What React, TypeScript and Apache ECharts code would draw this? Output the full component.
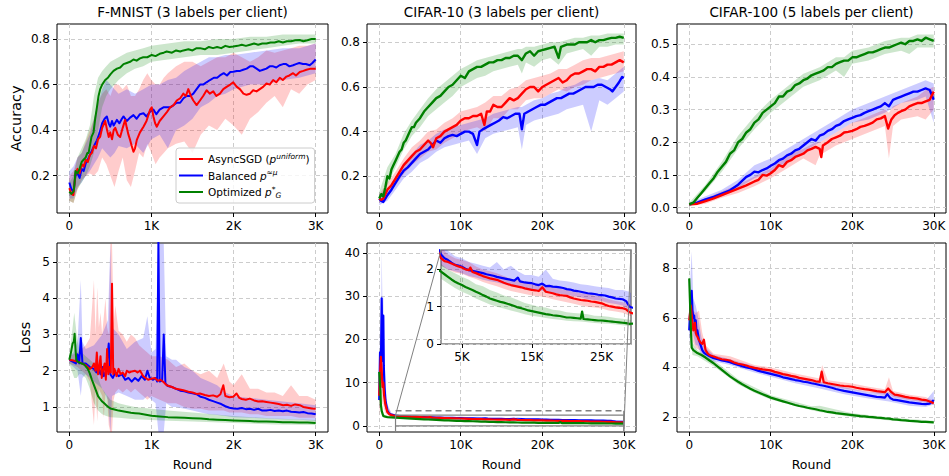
import React, { useEffect, useRef } from "react";
import * as echarts from "echarts";

const FONT = "DejaVu Sans";
const RED = "#ff0000";
const BLUE = "#0000ff";
const GREEN = "#008000";
const GRID_COLOR = "#cccccc";

// ---------- tick labels / axis ranges ----------
const xTicksFmnist = [0, 1000, 2000, 3000];
const xTicksCifar = [0, 10000, 20000, 30000];
const xTicksInset = [5000, 15000, 25000];
const yTicksA = [0.2, 0.4, 0.6, 0.8];
const yTicksB = [0.2, 0.4, 0.6, 0.8];
const yTicksC = [0.0, 0.1, 0.2, 0.3, 0.4, 0.5];
const yTicksD = [1, 2, 3, 4, 5];
const yTicksE = [0, 10, 20, 30, 40];
const yTicksF = [2, 4, 6, 8];
const yTicksInset = [0, 1, 2];

const titles = ["F-MNIST (3 labels per client)", "CIFAR-10 (3 labels per client)", "CIFAR-100 (5 labels per client)"];
const seriesNames = ["AsyncSGD", "Balanced", "Optimized"];

// ---------- F-MNIST accuracy ----------
const accFmnistAsync = [[0,0.145],[25,0.12],[50,0.115],[75,0.21],[100,0.23],[125,0.21],[150,0.25],[175,0.24],[200,0.27],[225,0.26],[250,0.29],[275,0.3],[300,0.33],[325,0.32],[350,0.36],[375,0.37],[400,0.41],[437,0.44],[460,0.4],[480,0.37],[498,0.39],[520,0.36],[540,0.4],[560,0.41],[590,0.38],[619,0.37],[650,0.41],[680,0.445],[700,0.41],[720,0.38],[741,0.356],[760,0.33],[781,0.305],[800,0.32],[822,0.357],[860,0.39],[903,0.415],[940,0.44],[984,0.49],[1004,0.5],[1024,0.46],[1045,0.43],[1065,0.415],[1100,0.44],[1146,0.46],[1190,0.48],[1227,0.5],[1270,0.51],[1308,0.53],[1350,0.54],[1389,0.56],[1420,0.55],[1449,0.58],[1480,0.55],[1510,0.53],[1550,0.51],[1591,0.53],[1630,0.55],[1672,0.575],[1710,0.56],[1753,0.57],[1790,0.55],[1834,0.56],[1875,0.58],[1915,0.59],[1960,0.6],[1996,0.61],[2040,0.59],[2077,0.58],[2120,0.56],[2158,0.555],[2200,0.56],[2239,0.575],[2280,0.57],[2320,0.58],[2360,0.59],[2401,0.605],[2440,0.6],[2482,0.62],[2520,0.61],[2563,0.63],[2600,0.62],[2644,0.635],[2680,0.64],[2725,0.65],[2760,0.64],[2806,0.655],[2850,0.66],[2887,0.665],[2940,0.67],[3000,0.67]];
const accFmnistBalanced = [[0,0.17],[25,0.14],[50,0.13],[75,0.2],[100,0.21],[125,0.19],[150,0.23],[175,0.22],[200,0.255],[225,0.27],[250,0.29],[275,0.31],[300,0.33],[336,0.355],[370,0.39],[400,0.43],[430,0.45],[457,0.46],[480,0.43],[498,0.415],[520,0.44],[540,0.42],[579,0.445],[610,0.43],[640,0.45],[660,0.46],[700,0.44],[740,0.455],[781,0.466],[820,0.45],[860,0.47],[903,0.474],[940,0.46],[980,0.48],[1024,0.49],[1060,0.47],[1100,0.49],[1146,0.5],[1186,0.5],[1230,0.5],[1270,0.51],[1308,0.52],[1350,0.52],[1390,0.54],[1429,0.55],[1470,0.55],[1510,0.56],[1550,0.58],[1591,0.6],[1630,0.6],[1670,0.61],[1713,0.62],[1760,0.63],[1800,0.63],[1834,0.64],[1880,0.65],[1920,0.64],[1960,0.655],[1996,0.656],[2040,0.66],[2080,0.66],[2117,0.665],[2160,0.67],[2200,0.68],[2239,0.68],[2280,0.67],[2320,0.66],[2360,0.665],[2400,0.67],[2440,0.68],[2482,0.68],[2520,0.675],[2560,0.685],[2603,0.69],[2640,0.69],[2680,0.68],[2725,0.685],[2760,0.69],[2800,0.695],[2846,0.69],[2880,0.69],[2927,0.685],[2960,0.695],[3000,0.71]];
const accFmnistOptimized = [[0,0.13],[25,0.12],[50,0.13],[60,0.15],[75,0.22],[100,0.21],[125,0.23],[150,0.26],[174,0.27],[200,0.28],[220,0.3],[235,0.3],[250,0.33],[270,0.37],[295,0.39],[315,0.45],[336,0.5],[356,0.55],[376,0.58],[400,0.6],[437,0.62],[470,0.63],[500,0.645],[538,0.66],[580,0.67],[620,0.675],[660,0.69],[700,0.695],[740,0.7],[781,0.71],[820,0.705],[860,0.715],[900,0.72],[950,0.72],[1004,0.73],[1050,0.725],[1100,0.735],[1150,0.74],[1186,0.745],[1250,0.74],[1300,0.75],[1350,0.745],[1389,0.75],[1450,0.755],[1500,0.75],[1550,0.76],[1591,0.76],[1650,0.755],[1700,0.765],[1750,0.76],[1800,0.765],[1850,0.76],[1900,0.77],[1950,0.765],[1996,0.767],[2050,0.77],[2100,0.775],[2150,0.77],[2200,0.775],[2250,0.78],[2300,0.775],[2350,0.78],[2401,0.78],[2450,0.785],[2500,0.785],[2550,0.79],[2600,0.785],[2650,0.79],[2700,0.79],[2750,0.795],[2806,0.796],[2850,0.79],[2900,0.795],[2950,0.8],[3000,0.8]];
const accFmnistAsyncBand = [[0,0.09,0.2],[50,0.08,0.22],[100,0.14,0.28],[150,0.18,0.3],[200,0.2,0.35],[250,0.21,0.4],[300,0.2,0.45],[350,0.22,0.52],[400,0.28,0.56],[450,0.25,0.58],[500,0.2,0.55],[550,0.15,0.6],[600,0.22,0.6],[650,0.28,0.58],[700,0.18,0.6],[750,0.15,0.55],[800,0.22,0.55],[850,0.3,0.58],[900,0.28,0.62],[950,0.34,0.65],[1000,0.3,0.62],[1050,0.25,0.6],[1100,0.28,0.6],[1150,0.3,0.63],[1200,0.32,0.65],[1300,0.34,0.68],[1400,0.35,0.7],[1500,0.3,0.7],[1600,0.38,0.68],[1700,0.42,0.7],[1800,0.4,0.72],[1900,0.45,0.72],[2000,0.42,0.74],[2100,0.38,0.72],[2200,0.45,0.7],[2300,0.48,0.72],[2400,0.52,0.75],[2500,0.55,0.74],[2600,0.5,0.75],[2700,0.58,0.76],[2800,0.56,0.77],[2900,0.6,0.77],[3000,0.62,0.78]];
const accFmnistBalancedBand = [[0,0.1,0.22],[50,0.1,0.24],[100,0.15,0.28],[150,0.17,0.3],[200,0.2,0.34],[250,0.22,0.38],[300,0.25,0.45],[350,0.28,0.52],[400,0.32,0.58],[450,0.3,0.62],[500,0.28,0.6],[550,0.3,0.58],[600,0.33,0.56],[700,0.32,0.58],[800,0.34,0.56],[900,0.3,0.58],[1000,0.36,0.6],[1100,0.38,0.6],[1200,0.32,0.62],[1300,0.4,0.63],[1400,0.42,0.66],[1500,0.45,0.68],[1600,0.5,0.7],[1700,0.52,0.72],[1800,0.55,0.72],[1900,0.56,0.73],[2000,0.58,0.73],[2200,0.6,0.74],[2400,0.6,0.75],[2600,0.62,0.76],[2800,0.63,0.76],[3000,0.65,0.78]];
const accFmnistOptimizedBand = [[0,0.09,0.17],[50,0.08,0.2],[100,0.14,0.28],[150,0.17,0.32],[200,0.2,0.36],[250,0.24,0.42],[300,0.3,0.55],[350,0.4,0.63],[400,0.5,0.66],[450,0.55,0.68],[500,0.58,0.7],[600,0.62,0.72],[700,0.65,0.74],[800,0.67,0.75],[900,0.68,0.76],[1000,0.7,0.77],[1200,0.71,0.78],[1400,0.72,0.79],[1600,0.73,0.79],[1800,0.73,0.8],[2000,0.74,0.8],[2200,0.75,0.81],[2400,0.76,0.81],[2600,0.77,0.82],[2800,0.78,0.82],[3000,0.78,0.82]];

// ---------- F-MNIST loss ----------
const lossFmnistAsync = [[0,2.3],[50,2.28],[100,2.25],[150,2.2],[200,2.15],[250,2.05],[280,2.1],[300,2.2],[320,2.0],[335,2.5],[350,1.9],[365,2.1],[380,2.4],[395,1.8],[410,2.0],[430,2.2],[445,1.75],[460,2.6],[475,1.9],[490,2.1],[505,1.95],[520,4.4],[535,1.9],[550,2.05],[575,1.85],[600,2.05],[625,1.9],[650,1.95],[680,1.85],[700,2.0],[730,1.95],[760,1.98],[800,2.0],[830,1.95],[862,2.0],[900,1.85],[930,1.8],[960,1.75],[1000,1.78],[1040,1.8],[1080,1.72],[1110,1.75],[1150,1.68],[1186,1.6],[1250,1.55],[1300,1.5],[1389,1.46],[1450,1.42],[1500,1.4],[1550,1.36],[1591,1.37],[1650,1.33],[1700,1.3],[1750,1.32],[1800,1.28],[1840,1.35],[1875,1.6],[1900,1.3],[1950,1.27],[1996,1.28],[2036,1.37],[2070,1.25],[2100,1.22],[2150,1.2],[2198,1.23],[2250,1.18],[2300,1.15],[2350,1.16],[2400,1.14],[2450,1.12],[2500,1.1],[2550,1.08],[2603,1.05],[2650,1.06],[2700,1.03],[2750,1.07],[2806,1.05],[2850,1.0],[2900,0.98],[2950,0.96],[3000,0.95]];
const lossFmnistBalanced = [[0,2.3],[40,2.25],[80,2.2],[100,2.45],[120,2.2],[140,2.9],[160,2.2],[200,2.2],[250,2.1],[300,2.05],[330,1.95],[350,2.1],[380,1.9],[400,2.1],[420,1.85],[450,2.0],[480,2.75],[500,1.9],[530,1.8],[560,1.95],[600,1.85],[640,1.9],[680,1.75],[720,1.8],[760,1.7],[800,1.8],[840,1.72],[880,1.85],[920,1.75],[950,2.0],[980,1.8],[1020,1.75],[1050,1.8],[1070,1.7],[1085,5.6],[1100,1.7],[1130,1.72],[1150,3.0],[1170,1.65],[1200,1.58],[1250,1.55],[1300,1.5],[1350,1.45],[1400,1.43],[1450,1.4],[1500,1.38],[1550,1.35],[1600,1.28],[1650,1.25],[1700,1.2],[1750,1.16],[1800,1.12],[1850,1.08],[1900,1.02],[1950,0.98],[2000,0.96],[2050,0.95],[2100,0.97],[2150,0.94],[2200,0.95],[2250,0.92],[2300,0.95],[2350,0.9],[2400,0.9],[2450,0.92],[2500,0.89],[2550,0.9],[2600,0.88],[2650,0.9],[2700,0.87],[2750,0.86],[2800,0.85],[2850,0.86],[2900,0.83],[2950,0.82],[3000,0.8]];
const lossFmnistOptimized = [[0,2.3],[20,2.5],[40,2.75],[55,2.8],[65,3.02],[75,2.6],[85,2.3],[100,2.25],[125,2.22],[150,2.2],[175,2.18],[200,2.12],[225,2.05],[250,1.92],[275,1.75],[300,1.6],[325,1.45],[350,1.3],[375,1.22],[400,1.15],[425,1.1],[450,1.05],[475,1.0],[500,0.96],[550,0.93],[600,0.9],[650,0.88],[700,0.86],[750,0.84],[800,0.83],[850,0.82],[900,0.8],[950,0.78],[1000,0.76],[1100,0.74],[1200,0.72],[1300,0.71],[1400,0.7],[1500,0.69],[1600,0.68],[1700,0.66],[1800,0.65],[1900,0.64],[2000,0.63],[2100,0.62],[2200,0.61],[2300,0.6],[2400,0.6],[2500,0.59],[2600,0.58],[2700,0.58],[2800,0.57],[2900,0.57],[3000,0.56]];
const lossFmnistAsyncBand = [[0,2.2,2.4],[50,2.15,2.45],[100,2.1,2.5],[150,2.0,2.6],[200,1.9,2.7],[250,1.7,2.9],[300,0.5,4.5],[320,1.5,3.0],[340,0.6,4.3],[360,1.5,3.2],[380,1.4,3.6],[400,1.3,3.0],[420,0.7,3.5],[440,1.4,4.0],[460,1.3,3.2],[480,0.5,3.0],[500,0.3,5.5],[520,0.3,5.5],[540,1.2,3.3],[560,1.4,3.8],[600,1.5,3.1],[650,1.4,3.0],[700,1.5,2.8],[750,1.4,3.0],[800,1.5,2.9],[850,1.4,2.7],[900,1.3,2.6],[950,1.2,2.5],[1000,1.3,2.4],[1100,1.2,2.4],[1200,1.1,2.3],[1300,1.1,2.1],[1400,1.0,2.2],[1500,0.95,2.0],[1600,0.95,1.9],[1700,0.9,2.0],[1800,0.9,1.8],[1880,0.9,2.2],[1950,0.85,1.7],[2000,0.85,1.6],[2100,0.85,1.9],[2200,0.8,1.5],[2300,0.8,1.5],[2400,0.75,1.4],[2500,0.75,1.4],[2600,0.75,1.3],[2700,0.75,1.6],[2800,0.7,1.3],[2900,0.7,1.3],[3000,0.7,1.2]];
const lossFmnistBalancedBand = [[0,2.2,2.4],[50,2.1,2.5],[100,2.0,2.8],[140,1.3,4.5],[160,1.8,2.8],[200,1.9,2.6],[300,1.7,2.7],[400,1.5,3.0],[470,1.2,3.4],[500,0.3,5.5],[520,1.3,3.2],[600,1.4,3.0],[700,1.3,2.6],[800,1.2,2.8],[900,1.2,2.9],[950,1.3,3.5],[1000,1.2,2.5],[1050,1.1,2.6],[1085,0.3,5.5],[1150,0.3,5.5],[1180,1.1,2.4],[1250,1.0,2.3],[1300,1.0,2.3],[1400,0.95,2.1],[1500,0.9,2.0],[1600,0.85,1.8],[1700,0.8,1.7],[1800,0.78,1.6],[1900,0.75,1.4],[2000,0.72,1.3],[2200,0.7,1.25],[2400,0.68,1.2],[2600,0.66,1.15],[2800,0.65,1.1],[3000,0.62,1.05]];
const lossFmnistOptimizedBand = [[0,2.2,2.4],[30,2.0,3.0],[60,1.8,3.6],[90,1.8,3.0],[120,1.9,2.6],[150,1.9,2.5],[200,1.8,2.4],[250,1.5,2.3],[300,1.1,2.2],[350,0.9,1.8],[400,0.8,1.5],[450,0.75,1.35],[500,0.72,1.2],[600,0.7,1.1],[700,0.68,1.05],[800,0.66,1.0],[1000,0.64,0.95],[1200,0.62,0.9],[1500,0.6,0.85],[2000,0.56,0.75],[2500,0.52,0.68],[3000,0.5,0.64]];

// ---------- CIFAR-10 accuracy ----------
const accC10Async = [[0,0.1],[250,0.095],[500,0.1],[1000,0.14],[1500,0.16],[2000,0.19],[2500,0.22],[3000,0.25],[3500,0.27],[4000,0.29],[4500,0.31],[5000,0.32],[5500,0.34],[6000,0.36],[6300,0.35],[6600,0.33],[7000,0.37],[7500,0.38],[8000,0.4],[8500,0.41],[9000,0.42],[9500,0.43],[10000,0.45],[10500,0.46],[11000,0.46],[11500,0.47],[12000,0.47],[12500,0.48],[12900,0.43],[13200,0.49],[13600,0.49],[14000,0.52],[14500,0.51],[15000,0.51],[15500,0.53],[16000,0.55],[16500,0.54],[17000,0.55],[17500,0.57],[18000,0.59],[18500,0.6],[19000,0.6],[19500,0.58],[20000,0.6],[20500,0.61],[21000,0.62],[21500,0.63],[22000,0.64],[22500,0.62],[23000,0.63],[23500,0.65],[24000,0.66],[24500,0.66],[25000,0.67],[25500,0.68],[26000,0.68],[26500,0.67],[27000,0.69],[27500,0.69],[28000,0.7],[28500,0.7],[29000,0.71],[29500,0.72],[30000,0.71]];
const accC10Balanced = [[0,0.1],[250,0.09],[500,0.085],[750,0.1],[1000,0.115],[1500,0.14],[2000,0.17],[2500,0.2],[3000,0.225],[3500,0.24],[4000,0.26],[4500,0.28],[5000,0.3],[5500,0.31],[6000,0.32],[6500,0.34],[7000,0.36],[7500,0.35],[8000,0.37],[8500,0.38],[9000,0.385],[9500,0.38],[10000,0.39],[10500,0.4],[11000,0.4],[11500,0.39],[12000,0.34],[12300,0.4],[12700,0.41],[13200,0.42],[13700,0.43],[14200,0.44],[14700,0.45],[15200,0.465],[15700,0.46],[16200,0.47],[16700,0.48],[17200,0.48],[17500,0.41],[17800,0.48],[18300,0.49],[18800,0.5],[19300,0.51],[19800,0.52],[20300,0.52],[20800,0.53],[21300,0.54],[21800,0.55],[22300,0.55],[22800,0.56],[23300,0.57],[23800,0.57],[24300,0.58],[24800,0.59],[25300,0.6],[25800,0.6],[26300,0.6],[26800,0.61],[27300,0.61],[27800,0.6],[28300,0.59],[28600,0.58],[29000,0.6],[29400,0.62],[29800,0.645],[30000,0.64]];
const accC10Optimized = [[0,0.1],[250,0.12],[500,0.11],[750,0.15],[1000,0.2],[1250,0.19],[1500,0.23],[1750,0.25],[2000,0.27],[2250,0.29],[2500,0.31],[2750,0.32],[3000,0.35],[3250,0.36],[3500,0.38],[3750,0.4],[4000,0.42],[4250,0.42],[4500,0.44],[4750,0.45],[5000,0.46],[5500,0.49],[6000,0.51],[6500,0.53],[7000,0.55],[7500,0.56],[8000,0.58],[8500,0.6],[9000,0.61],[9500,0.63],[10000,0.65],[10500,0.64],[11000,0.67],[11500,0.68],[12000,0.69],[12500,0.69],[13000,0.7],[13500,0.71],[14000,0.71],[14500,0.72],[15000,0.72],[15500,0.73],[16000,0.73],[16500,0.74],[17000,0.74],[17500,0.72],[18000,0.75],[18500,0.76],[19000,0.74],[19500,0.76],[20000,0.765],[20500,0.77],[21000,0.775],[21500,0.78],[22000,0.73],[22300,0.78],[23000,0.79],[23500,0.79],[24000,0.79],[24500,0.8],[25000,0.8],[25500,0.8],[26000,0.81],[26500,0.8],[27000,0.81],[27500,0.81],[28000,0.815],[28500,0.82],[29000,0.82],[29500,0.825],[30000,0.82]];
const accC10AsyncBand = [[0,0.08,0.12],[1000,0.11,0.17],[2000,0.16,0.22],[3000,0.21,0.28],[4000,0.25,0.33],[5000,0.28,0.36],[6000,0.31,0.4],[7000,0.32,0.41],[8000,0.35,0.44],[9000,0.37,0.46],[10000,0.39,0.49],[11000,0.41,0.5],[12000,0.42,0.51],[13000,0.4,0.53],[14000,0.46,0.56],[15000,0.46,0.56],[16000,0.5,0.59],[17000,0.5,0.6],[18000,0.54,0.63],[19000,0.55,0.64],[20000,0.55,0.65],[21000,0.57,0.66],[22000,0.59,0.68],[23000,0.58,0.68],[24000,0.6,0.7],[25000,0.61,0.72],[26000,0.63,0.73],[27000,0.64,0.73],[28000,0.65,0.74],[29000,0.66,0.75],[30000,0.67,0.76]];
const accC10BalancedBand = [[0,0.07,0.12],[1000,0.09,0.14],[2000,0.14,0.2],[3000,0.19,0.26],[4000,0.22,0.3],[5000,0.26,0.34],[6000,0.28,0.36],[7000,0.31,0.39],[8000,0.33,0.41],[9000,0.34,0.42],[10000,0.35,0.43],[11000,0.36,0.44],[12000,0.3,0.45],[13000,0.37,0.46],[14000,0.39,0.48],[15000,0.4,0.49],[16000,0.41,0.5],[17000,0.42,0.51],[17500,0.32,0.51],[18000,0.43,0.52],[19000,0.45,0.54],[20000,0.46,0.55],[21000,0.47,0.57],[22000,0.48,0.58],[23000,0.5,0.6],[24000,0.51,0.61],[25000,0.52,0.63],[26000,0.4,0.63],[27000,0.54,0.64],[28000,0.52,0.63],[29000,0.55,0.66],[30000,0.58,0.69]];
const accC10OptimizedBand = [[0,0.09,0.13],[1000,0.16,0.24],[2000,0.24,0.3],[3000,0.32,0.39],[4000,0.38,0.45],[5000,0.42,0.5],[6000,0.47,0.55],[7000,0.5,0.59],[8000,0.53,0.62],[9000,0.56,0.65],[10000,0.6,0.68],[11000,0.62,0.7],[12000,0.64,0.72],[13000,0.65,0.73],[14000,0.67,0.74],[15000,0.68,0.75],[16000,0.69,0.76],[17000,0.7,0.77],[17500,0.66,0.77],[18000,0.71,0.78],[19000,0.69,0.78],[20000,0.72,0.79],[21000,0.73,0.8],[22000,0.7,0.8],[23000,0.75,0.81],[24000,0.76,0.82],[25000,0.77,0.82],[26000,0.74,0.83],[27000,0.78,0.83],[28000,0.78,0.84],[29000,0.79,0.84],[30000,0.79,0.84]];

// ---------- CIFAR-100 accuracy ----------
const accC100Async = [[0,0.01],[1000,0.012],[2000,0.02],[3000,0.028],[4000,0.038],[5000,0.048],[6000,0.058],[7000,0.068],[8000,0.08],[8500,0.085],[9000,0.1],[9500,0.098],[10000,0.105],[10500,0.115],[11000,0.13],[11500,0.125],[12000,0.14],[12500,0.145],[13000,0.155],[13500,0.16],[14000,0.165],[14500,0.175],[15000,0.18],[15500,0.186],[16000,0.18],[16200,0.155],[16400,0.19],[17000,0.2],[17500,0.21],[18000,0.215],[18500,0.22],[19000,0.23],[19500,0.232],[20000,0.235],[20500,0.24],[21000,0.247],[21500,0.25],[22000,0.255],[22500,0.26],[23000,0.27],[23500,0.273],[24000,0.28],[24400,0.242],[24800,0.27],[25200,0.283],[25600,0.29],[26000,0.295],[26500,0.3],[27000,0.31],[27500,0.315],[28000,0.32],[28500,0.32],[29000,0.325],[29500,0.33],[30000,0.355]];
const accC100Balanced = [[0,0.01],[1000,0.015],[2000,0.025],[3000,0.033],[4000,0.043],[5000,0.053],[6000,0.07],[7000,0.094],[7500,0.1],[8000,0.11],[8500,0.108],[9000,0.115],[9500,0.12],[10000,0.128],[10500,0.135],[11000,0.145],[11500,0.15],[12000,0.16],[12500,0.165],[13000,0.175],[13500,0.18],[14000,0.19],[14500,0.2],[15000,0.21],[15500,0.205],[16000,0.22],[16500,0.225],[17000,0.235],[17500,0.24],[18000,0.25],[18500,0.255],[19000,0.265],[19500,0.27],[20000,0.275],[20500,0.28],[21000,0.283],[21500,0.29],[22000,0.295],[22500,0.3],[23000,0.305],[23500,0.31],[24000,0.32],[24500,0.31],[25000,0.33],[25500,0.335],[26000,0.34],[26500,0.345],[27000,0.35],[27500,0.355],[28000,0.355],[28500,0.36],[29000,0.365],[29500,0.36],[30000,0.33]];
const accC100Optimized = [[0,0.01],[500,0.015],[1000,0.03],[1500,0.045],[2000,0.06],[2500,0.075],[3000,0.09],[3500,0.11],[4000,0.125],[4500,0.14],[5000,0.165],[5500,0.175],[6000,0.2],[6500,0.21],[7000,0.23],[7500,0.24],[8000,0.26],[8500,0.27],[9000,0.29],[9500,0.3],[10000,0.31],[10500,0.32],[11000,0.34],[11500,0.34],[12000,0.355],[12500,0.36],[13000,0.375],[13500,0.38],[14000,0.39],[14500,0.395],[15000,0.405],[15500,0.41],[16000,0.415],[16500,0.42],[17000,0.43],[17500,0.43],[18000,0.44],[18500,0.445],[19000,0.45],[19500,0.45],[20000,0.46],[20500,0.46],[21000,0.465],[21500,0.47],[22000,0.475],[22500,0.475],[23000,0.48],[23500,0.485],[24000,0.49],[24500,0.49],[25000,0.495],[25500,0.5],[26000,0.505],[26500,0.5],[27000,0.51],[27500,0.51],[28000,0.515],[28500,0.51],[29000,0.52],[29500,0.515],[30000,0.51]];
const accC100AsyncBand = [[0,0.005,0.015],[2000,0.012,0.028],[4000,0.03,0.05],[6000,0.045,0.07],[8000,0.065,0.095],[10000,0.09,0.12],[12000,0.12,0.16],[14000,0.15,0.18],[15500,0.13,0.2],[16000,0.16,0.2],[18000,0.19,0.23],[20000,0.21,0.26],[22000,0.23,0.28],[24000,0.25,0.3],[24500,0.15,0.29],[25000,0.25,0.31],[26000,0.27,0.32],[28000,0.28,0.34],[29000,0.27,0.36],[30000,0.3,0.37]];
const accC100BalancedBand = [[0,0.005,0.015],[2000,0.02,0.035],[4000,0.035,0.055],[6000,0.06,0.085],[8000,0.09,0.13],[10000,0.11,0.15],[12000,0.14,0.18],[14000,0.17,0.21],[16000,0.2,0.24],[18000,0.23,0.27],[20000,0.26,0.3],[22000,0.27,0.32],[24000,0.29,0.34],[26000,0.32,0.36],[28000,0.33,0.38],[29000,0.34,0.39],[30000,0.26,0.38]];
const accC100OptimizedBand = [[0,0.005,0.015],[2000,0.05,0.07],[4000,0.11,0.14],[6000,0.18,0.22],[8000,0.24,0.28],[10000,0.29,0.33],[12000,0.33,0.37],[14000,0.37,0.41],[16000,0.39,0.43],[18000,0.42,0.46],[19000,0.4,0.46],[20000,0.44,0.48],[22000,0.45,0.49],[24000,0.47,0.51],[26000,0.48,0.52],[27000,0.47,0.52],[28000,0.49,0.53],[30000,0.49,0.53]];

// ---------- CIFAR-10 loss ----------
const lossC10Async = [[0,7],[100,12],[200,16],[300,13],[400,9],[500,10],[600,7],[750,5],[1000,3.2],[1250,2.7],[1500,2.5],[2000,2.3],[2500,2.22],[3000,2.2],[3500,2.16],[4000,2.12],[4500,2.08],[5000,2.05],[5500,2.0],[6000,1.98],[6200,2.05],[6500,1.93],[7000,1.9],[7500,1.86],[8000,1.82],[8500,1.79],[9000,1.76],[9500,1.74],[10000,1.72],[10500,1.68],[11000,1.64],[11500,1.61],[12000,1.58],[12500,1.56],[13000,1.54],[13500,1.52],[14000,1.49],[14500,1.47],[15000,1.45],[15500,1.44],[16000,1.42],[16500,1.52],[17000,1.4],[17500,1.38],[18000,1.36],[18500,1.33],[19000,1.31],[19500,1.3],[20000,1.29],[20500,1.25],[21000,1.22],[21500,1.2],[22000,1.18],[22500,1.17],[23000,1.16],[23500,1.14],[24000,1.13],[24500,1.11],[25000,1.09],[25500,1.05],[26000,1.02],[26500,1.0],[27000,0.98],[27500,0.97],[28000,0.96],[28500,0.93],[29000,0.85],[29500,0.82],[30000,0.82]];
const lossC10Balanced = [[0,6],[100,17],[200,12],[300,29.5],[350,22],[420,15],[500,25.5],[560,14],[650,9],[750,6],[1000,3.5],[1250,2.8],[1500,2.6],[2000,2.4],[2500,2.3],[3000,2.25],[3500,2.18],[4000,2.12],[4500,2.1],[5000,2.07],[5500,2.02],[6000,1.98],[6500,1.96],[7000,1.94],[7500,1.92],[8000,1.9],[8500,1.87],[9000,1.85],[9500,1.83],[10000,1.8],[10500,1.78],[11000,1.76],[11500,1.74],[12000,1.72],[12500,1.7],[13000,1.78],[13300,1.68],[14000,1.65],[14500,1.64],[15000,1.63],[15500,1.6],[16000,1.58],[16500,1.62],[17000,1.55],[17500,1.56],[18000,1.54],[18500,1.53],[19000,1.52],[19500,1.5],[20000,1.47],[20500,1.46],[21000,1.43],[21500,1.42],[22000,1.4],[22500,1.38],[23000,1.36],[23500,1.35],[24000,1.34],[24500,1.32],[25000,1.31],[25500,1.3],[26000,1.27],[26500,1.25],[27000,1.22],[27500,1.21],[28000,1.2],[28500,1.15],[29000,1.0],[29500,0.97],[30000,0.95]];
const lossC10Optimized = [[0,12.5],[80,10],[150,8],[200,5],[300,3.5],[500,2.3],[750,2.15],[1000,2.05],[1500,2.0],[2000,1.94],[2500,1.87],[3000,1.8],[3500,1.73],[4000,1.67],[4500,1.62],[5000,1.58],[5500,1.53],[6000,1.49],[6500,1.45],[7000,1.4],[7500,1.36],[8000,1.31],[8500,1.27],[9000,1.22],[9500,1.19],[10000,1.16],[10500,1.13],[11000,1.11],[11500,1.08],[12000,1.05],[12500,1.02],[13000,0.98],[13500,0.96],[14000,0.93],[14500,0.9],[15000,0.88],[15500,0.86],[16000,0.84],[16500,0.82],[17000,0.8],[17500,0.79],[18000,0.77],[18500,0.76],[19000,0.75],[19500,0.73],[20000,0.71],[20500,0.71],[21000,0.7],[21500,0.69],[22000,0.68],[22200,0.87],[22400,0.67],[23000,0.66],[23500,0.65],[24000,0.64],[24500,0.63],[25000,0.63],[25500,0.62],[26000,0.61],[26500,0.6],[27000,0.59],[27500,0.58],[28000,0.57],[28500,0.56],[29000,0.54],[29500,0.55],[30000,0.54]];
const lossC10AsyncBand = [[0,2,10],[100,6,18],[200,8,22],[300,7,18],[400,5,14],[500,5,15],[600,4,11],[750,3,8],[1000,2.5,4.5],[1500,2.2,2.9],[2000,2.1,2.6],[3000,2.0,2.4],[4000,1.92,2.3],[5000,1.88,2.25],[6000,1.8,2.2],[7000,1.74,2.08],[8000,1.66,2.0],[9000,1.6,1.95],[10000,1.55,1.9],[11000,1.48,1.82],[12000,1.42,1.75],[13000,1.38,1.72],[14000,1.34,1.66],[15000,1.3,1.62],[16000,1.28,1.6],[17000,1.25,1.56],[18000,1.2,1.52],[19000,1.16,1.48],[20000,1.12,1.45],[21000,1.08,1.4],[22000,1.03,1.36],[23000,1.0,1.34],[24000,0.98,1.3],[25000,0.95,1.26],[26000,0.9,1.2],[27000,0.87,1.15],[28000,0.84,1.12],[29000,0.76,1.05],[30000,0.72,0.95]];
const lossC10BalancedBand = [[0,4,9],[100,8,25],[200,6,18],[300,10,40.5],[400,8,28],[500,10,30],[600,5,18],[750,4,10],[1000,2.8,5],[1500,2.2,3.0],[2000,2.1,2.7],[3000,2.0,2.5],[4000,1.95,2.35],[5000,1.9,2.3],[6000,1.82,2.2],[7000,1.78,2.15],[8000,1.72,2.1],[9000,1.68,2.05],[10000,1.65,2.2],[11000,1.6,2.0],[12000,1.56,2.1],[13000,1.52,1.95],[14000,1.5,1.85],[15000,1.47,1.85],[16000,1.44,1.8],[17000,1.4,2.0],[18000,1.38,1.75],[19000,1.35,1.7],[20000,1.32,1.68],[21000,1.28,1.65],[22000,1.25,1.6],[23000,1.2,1.58],[24000,1.18,1.55],[25000,1.15,1.52],[26000,1.1,1.5],[27000,1.07,1.45],[28000,1.03,1.45],[29000,0.9,1.4],[30000,0.85,1.2]];
const lossC10OptimizedBand = [[0,8,15],[100,6,13],[200,3.5,8],[300,2.5,5],[500,2.0,2.8],[1000,1.85,2.25],[2000,1.75,2.15],[3000,1.62,2.0],[4000,1.5,1.9],[5000,1.4,1.8],[6000,1.32,1.72],[7000,1.22,1.6],[8000,1.14,1.55],[9000,1.06,1.45],[10000,1.0,1.38],[11000,0.95,1.3],[12000,0.9,1.25],[13000,0.85,1.18],[14000,0.8,1.1],[15000,0.76,1.05],[16000,0.73,1.0],[17000,0.7,0.98],[18000,0.67,0.92],[19000,0.65,0.9],[20000,0.62,0.85],[21000,0.61,0.83],[22000,0.6,0.82],[23000,0.58,0.8],[24000,0.56,0.76],[25000,0.55,0.75],[26000,0.54,0.73],[27000,0.52,0.7],[28000,0.5,0.68],[29000,0.48,0.65],[30000,0.47,0.64]];

// ---------- CIFAR-100 loss ----------
const lossC100Async = [[0,5.9],[100,6.2],[200,6.5],[300,6.1],[400,5.8],[500,5.5],[600,5.6],[700,5.8],[800,5.4],[900,5.3],[1000,5.25],[1200,5.1],[1400,5.0],[1600,4.95],[1800,5.12],[2000,4.7],[2300,4.55],[2600,4.48],[3000,4.44],[3500,4.38],[4000,4.33],[4500,4.31],[5000,4.28],[5500,4.2],[6000,4.15],[6500,4.12],[7000,4.08],[7500,4.02],[8000,3.98],[8500,3.95],[9000,3.92],[9500,3.9],[10000,3.88],[10500,3.82],[11000,3.78],[11500,3.73],[12000,3.7],[12500,3.66],[13000,3.63],[13500,3.58],[14000,3.55],[14500,3.52],[15000,3.49],[15500,3.44],[16000,3.42],[16250,3.83],[16500,3.4],[17000,3.36],[17500,3.33],[18000,3.3],[18500,3.27],[19000,3.25],[19500,3.24],[20000,3.22],[20500,3.18],[21000,3.15],[21500,3.12],[22000,3.1],[22500,3.07],[23000,3.04],[23500,3.02],[24000,3.0],[24400,3.15],[24800,3.0],[25200,2.9],[25600,2.88],[26000,2.85],[26500,2.81],[27000,2.78],[27500,2.76],[28000,2.74],[28500,2.7],[29000,2.68],[29500,2.62],[30000,2.55]];
const lossC100Balanced = [[0,5.5],[100,6.2],[200,6.8],[300,7.1],[400,6.3],[500,6.0],[600,6.1],[700,5.7],[800,5.9],[900,5.4],[1000,5.5],[1200,5.1],[1400,4.9],[1600,4.7],[1800,4.6],[2000,4.55],[2500,4.45],[3000,4.37],[3500,4.33],[4000,4.28],[4500,4.25],[5000,4.21],[5500,4.15],[6000,4.1],[6500,4.05],[7000,4.0],[7500,3.97],[8000,3.92],[8500,3.86],[9000,3.82],[9500,3.78],[10000,3.74],[10500,3.7],[11000,3.66],[11500,3.6],[12000,3.57],[12500,3.53],[13000,3.49],[13500,3.46],[14000,3.42],[14500,3.4],[15000,3.36],[15500,3.33],[16000,3.29],[16500,3.26],[17000,3.22],[17500,3.18],[18000,3.13],[18500,3.09],[19000,3.05],[19500,3.02],[20000,2.99],[20500,2.96],[21000,2.93],[21500,2.9],[22000,2.87],[22500,2.84],[23000,2.81],[23500,2.8],[24000,2.78],[24300,2.92],[24700,2.75],[25000,2.7],[25500,2.68],[26000,2.65],[26500,2.62],[27000,2.59],[27500,2.57],[28000,2.55],[28500,2.53],[29000,2.52],[29500,2.54],[30000,2.68]];
const lossC100Optimized = [[0,7.6],[100,6.6],[200,5.6],[300,4.8],[500,4.7],[750,4.64],[1000,4.58],[1500,4.5],[2000,4.4],[2500,4.28],[3000,4.17],[3500,4.03],[4000,3.9],[4500,3.77],[5000,3.64],[5500,3.53],[6000,3.42],[6500,3.32],[7000,3.23],[7500,3.14],[8000,3.06],[8500,2.99],[9000,2.92],[9500,2.85],[10000,2.78],[10500,2.73],[11000,2.68],[11500,2.63],[12000,2.58],[12500,2.53],[13000,2.48],[13500,2.44],[14000,2.41],[14500,2.37],[15000,2.34],[15500,2.31],[16000,2.27],[16500,2.24],[17000,2.2],[17500,2.18],[18000,2.15],[18500,2.13],[19000,2.11],[19500,2.09],[20000,2.07],[20500,2.05],[21000,2.03],[21500,2.02],[22000,2.0],[22500,1.99],[23000,1.97],[23500,1.96],[24000,1.94],[24500,1.93],[25000,1.9],[25500,1.89],[26000,1.87],[26500,1.86],[27000,1.84],[27500,1.83],[28000,1.82],[28500,1.8],[29000,1.8],[29500,1.79],[30000,1.78]];
const lossC100AsyncBand = [[0,5.4,6.4],[200,5.6,7.0],[500,5.0,6.3],[800,4.8,6.2],[1200,4.7,6.3],[1600,4.6,5.4],[2000,4.5,4.9],[3000,4.35,4.55],[5000,4.18,4.45],[8000,3.88,4.1],[10000,3.78,4.0],[13000,3.52,3.75],[16000,3.3,3.55],[16300,3.35,4.1],[17000,3.25,3.48],[20000,3.1,3.35],[22000,3.0,3.22],[24000,2.9,3.12],[24500,2.95,3.6],[25000,2.8,3.05],[27000,2.68,2.9],[29000,2.58,2.8],[30000,2.48,2.65]];
const lossC100BalancedBand = [[0,5.0,6.5],[200,5.8,8.0],[300,6.0,8.7],[500,5.3,6.8],[800,4.9,6.5],[1000,4.9,6.2],[1500,4.5,5.2],[2000,4.35,4.8],[3000,4.25,4.5],[5000,4.1,4.33],[8000,3.8,4.05],[10000,3.62,3.86],[13000,3.36,3.62],[16000,3.15,3.42],[19000,2.92,3.2],[22000,2.74,3.0],[24500,2.62,3.0],[27000,2.45,2.72],[29000,2.4,2.65],[30000,2.5,3.05]];
const lossC100OptimizedBand = [[0,6.5,8.1],[200,5.0,6.2],[400,4.5,5.0],[1000,4.45,4.7],[3000,4.05,4.3],[6000,3.32,3.52],[8000,2.98,3.2],[10000,2.7,2.88],[15000,2.27,2.43],[16000,2.2,2.45],[20000,2.0,2.15],[25000,1.84,1.97],[30000,1.73,1.84]];

// ---------- layout ----------
const gridRects = [
  { left: 57, top: 24, width: 271, height: 189 },
  { left: 367, top: 24, width: 269, height: 189 },
  { left: 677, top: 24, width: 269, height: 189 },
  { left: 57, top: 243, width: 271, height: 189 },
  { left: 367, top: 243, width: 269, height: 189 },
  { left: 677, top: 243, width: 269, height: 189 },
  { left: 441, top: 250, width: 190, height: 94 },
];
const xRangeFmnist = [-150, 3150];
const xRangeCifar = [-1500, 31500];
const xRangeInset = [2000, 29200];

const kfmt = (v: number) => (v === 0 ? "0" : `${v / 1000}K`);
const f1 = (v: number) => v.toFixed(1);
const f0 = (v: number) => String(v);

const panels = [
  { xr: xRangeFmnist, xt: xTicksFmnist, yr: [0.036, 0.866], yt: yTicksA, yf: f1, lines: [accFmnistAsync, accFmnistBalanced, accFmnistOptimized], bands: [accFmnistAsyncBand, accFmnistBalancedBand, accFmnistOptimizedBand], yName: "Accuracy", yGap: 34, xName: "", lw: 2 },
  { xr: xRangeCifar, xt: xTicksCifar, yr: [0.0355, 0.882], yt: yTicksB, yf: f1, lines: [accC10Async, accC10Balanced, accC10Optimized], bands: [accC10AsyncBand, accC10BalancedBand, accC10OptimizedBand], yName: "", yGap: 0, xName: "", lw: 2.4 },
  { xr: xRangeCifar, xt: xTicksCifar, yr: [-0.0165, 0.562], yt: yTicksC, yf: f1, lines: [accC100Async, accC100Balanced, accC100Optimized], bands: [accC100AsyncBand, accC100BalancedBand, accC100OptimizedBand], yName: "", yGap: 0, xName: "", lw: 2.4 },
  { xr: xRangeFmnist, xt: xTicksFmnist, yr: [0.31, 5.52], yt: yTicksD, yf: f0, lines: [lossFmnistAsync, lossFmnistBalanced, lossFmnistOptimized], bands: [lossFmnistAsyncBand, lossFmnistBalancedBand, lossFmnistOptimizedBand], yName: "Loss", yGap: 25, xName: "Round", lw: 2 },
  { xr: xRangeCifar, xt: xTicksCifar, yr: [-1.4, 42.3], yt: yTicksE, yf: f0, lines: [lossC10Async, lossC10Balanced, lossC10Optimized], bands: [lossC10AsyncBand, lossC10BalancedBand, lossC10OptimizedBand], yName: "", yGap: 0, xName: "Round", lw: 2.2 },
  { xr: xRangeCifar, xt: xTicksCifar, yr: [1.39, 9.03], yt: yTicksF, yf: f0, lines: [lossC100Async, lossC100Balanced, lossC100Optimized], bands: [lossC100AsyncBand, lossC100BalancedBand, lossC100OptimizedBand], yName: "", yGap: 0, xName: "Round", lw: 2.2 },
  { xr: xRangeInset, xt: xTicksInset, yr: [0, 2.52], yt: yTicksInset, yf: f0, lines: [lossC10Async, lossC10Balanced, lossC10Optimized], bands: [lossC10AsyncBand, lossC10BalancedBand, lossC10OptimizedBand], yName: "", yGap: 0, xName: "", lw: 2.2 },
];

const colors = [RED, BLUE, GREEN];
const lineZ = [4, 3, 5];

function bandSeries(gi: number, band: number[][], color: string, z: number) {
  return {
    type: "custom",
    xAxisIndex: gi,
    yAxisIndex: gi,
    clip: true,
    silent: true,
    z,
    data: [[band[0][0], band[0][1]]],
    renderItem: (_params: any, api: any) => {
      const top = band.map((b) => api.coord([b[0], b[2]]));
      const bot = band.slice().reverse().map((b) => api.coord([b[0], b[1]]));
      return {
        type: "polygon",
        shape: { points: top.concat(bot) },
        style: { fill: color, opacity: 0.2 },
      };
    },
  };
}

function buildOption() {
  const tickStyle = { color: "#000", fontSize: 12, fontFamily: FONT, fontWeight: 400 };
  const grid = gridRects.map((g, i) => ({
    ...g,
    show: true,
    containLabel: false,
    borderColor: i === 6 ? "#7f7f7f" : "#000",
    borderWidth: i === 6 ? 1.5 : 1,
    backgroundColor: i === 6 ? "#ffffff" : "transparent",
  }));
  const xAxis = panels.map((p, i) => ({
    gridIndex: i,
    type: "value",
    min: p.xr[0],
    max: p.xr[1],
    z: i === 6 ? 3 : 0,
    axisLine: { show: false, onZero: false },
    axisTick: { show: true, customValues: p.xt, length: 4, lineStyle: { color: "#000", width: 1 } },
    axisLabel: { customValues: p.xt, formatter: kfmt, margin: 7, ...tickStyle },
    splitLine: { show: true, lineStyle: { color: GRID_COLOR, width: 1, type: [4, 3] } },
    name: p.xName,
    nameLocation: "middle",
    nameGap: 26,
    nameTextStyle: { color: "#000", fontSize: 12.5, fontFamily: FONT, fontWeight: 400 },
  }));
  const yAxis = panels.map((p, i) => ({
    gridIndex: i,
    type: "value",
    min: p.yr[0],
    max: p.yr[1],
    z: i === 6 ? 3 : 0,
    axisLine: { show: false, onZero: false },
    axisTick: { show: true, customValues: p.yt, length: 4, lineStyle: { color: "#000", width: 1 } },
    axisLabel: { customValues: p.yt, formatter: p.yf, margin: 7, ...tickStyle },
    splitLine: { show: true, lineStyle: { color: GRID_COLOR, width: 1, type: [4, 3] } },
    name: p.yName,
    nameLocation: "middle",
    nameGap: p.yGap,
    nameRotate: 90,
    nameTextStyle: { color: "#000", fontSize: 14.5, fontFamily: FONT, fontWeight: 400 },
  }));
  const series: any[] = [];
  panels.forEach((p, i) => {
    const inset = i === 6;
    p.bands.forEach((b, k) => series.push(bandSeries(i, b, colors[k], inset ? 4 : 2)));
    p.lines.forEach((l, k) =>
      series.push({
        type: "line",
        name: seriesNames[k],
        xAxisIndex: i,
        yAxisIndex: i,
        data: l,
        symbol: "none",
        showSymbol: false,
        clip: true,
        silent: true,
        z: inset ? 5 + lineZ[k] : lineZ[k],
        lineStyle: { color: colors[k], width: p.lw, join: "round" },
        itemStyle: { color: colors[k] },
      })
    );
  });
  const title = titles.map((t, i) => ({
    text: t,
    left: gridRects[i].left + gridRects[i].width / 2,
    top: 5,
    textAlign: "center",
    padding: 0,
    textStyle: { color: "#000", fontSize: 13.5, fontWeight: 400, fontFamily: FONT },
  }));
  const legendText: Record<string, string> = {
    AsyncSGD: "{t|AsyncSGD (}{i|p}{sup|uniform}{t|)}",
    Balanced: "{t|Balanced }{i|p}{sup|≈μ}",
    Optimized: "{t|Optimized }{i|p}{sup|*}{sub|G}",
  };
  return {
    animation: false,
    textStyle: { fontFamily: FONT },
    title,
    legend: {
      data: seriesNames,
      orient: "vertical",
      left: 176,
      top: 148,
      z: 20,
      selectedMode: false,
      icon: "rect",
      itemWidth: 24,
      itemHeight: 2,
      itemGap: 4,
      itemTextGap: 9,
      padding: [4, 5, 4, 3],
      backgroundColor: "rgba(255,255,255,0.8)",
      borderColor: "#cccccc",
      borderWidth: 1,
      borderRadius: 3,
      formatter: (name: string) => legendText[name] || name,
      textStyle: {
        color: "#000",
        fontSize: 10.5,
        fontFamily: FONT,
        rich: {
          t: { fontSize: 10.5, lineHeight: 14, color: "#000", fontFamily: FONT },
          i: { fontSize: 10.5, lineHeight: 14, color: "#000", fontStyle: "italic", fontFamily: FONT },
          sup: { fontSize: 7.5, lineHeight: 8, color: "#000", fontStyle: "italic", verticalAlign: "top", fontFamily: FONT },
          sub: { fontSize: 7.5, lineHeight: 8, color: "#000", fontStyle: "italic", verticalAlign: "bottom", fontFamily: FONT },
        },
      },
    },
    grid,
    xAxis,
    yAxis,
    series,
  };
}

export default function App() {
  const ref = useRef<HTMLDivElement>(null);
  useEffect(() => {
    if (!ref.current) return;
    const chart = echarts.init(ref.current, null, { renderer: "svg" });
    chart.setOption(buildOption() as any);
    const px = (g: number, v: number[]) => chart.convertToPixel({ gridIndex: g } as any, v) as unknown as number[];
    const rTL = px(4, [2000, 2.5]);
    const rBR = px(4, [30000, 0]);
    const axisBottomL = px(4, [2000, -1.4]);
    const axisBottomR = px(4, [30000, -1.4]);
    const dashL = px(4, [2000, 3.5]);
    const dashR = px(4, [30000, 3.5]);
    const insetTL = px(6, [2000, 2.52]);
    const insetTR = px(6, [29200, 2.52]);
    const stroke = "#808080";
    chart.setOption({
      graphic: [
        { type: "rect", z: 30, silent: true, shape: { x: rTL[0], y: rTL[1], width: rBR[0] - rTL[0], height: rBR[1] - rTL[1] }, style: { fill: "none", stroke, lineWidth: 1.2 } },
        { type: "line", z: 30, silent: true, shape: { x1: rTL[0], y1: rBR[1], x2: axisBottomL[0], y2: axisBottomL[1] }, style: { stroke, lineWidth: 1.2 } },
        { type: "line", z: 30, silent: true, shape: { x1: dashR[0], y1: dashR[1], x2: axisBottomR[0], y2: axisBottomR[1] }, style: { stroke, lineWidth: 1.2 } },
        { type: "line", z: 30, silent: true, shape: { x1: dashL[0], y1: dashL[1], x2: dashR[0], y2: dashR[1] }, style: { stroke, lineWidth: 1.6, lineDash: [6, 4] } },
        { type: "line", z: 30, silent: true, shape: { x1: rTL[0], y1: rTL[1], x2: insetTL[0], y2: insetTL[1] }, style: { stroke, lineWidth: 1 } },
        { type: "line", z: 30, silent: true, shape: { x1: axisBottomR[0], y1: axisBottomR[1], x2: insetTR[0], y2: insetTR[1] }, style: { stroke, lineWidth: 1 } },
      ],
    } as any);
    return () => chart.dispose();
  }, []);
  return <div ref={ref} style={{ position: "absolute", left: 0, top: 0, width: 949, height: 476 }} />;
}
